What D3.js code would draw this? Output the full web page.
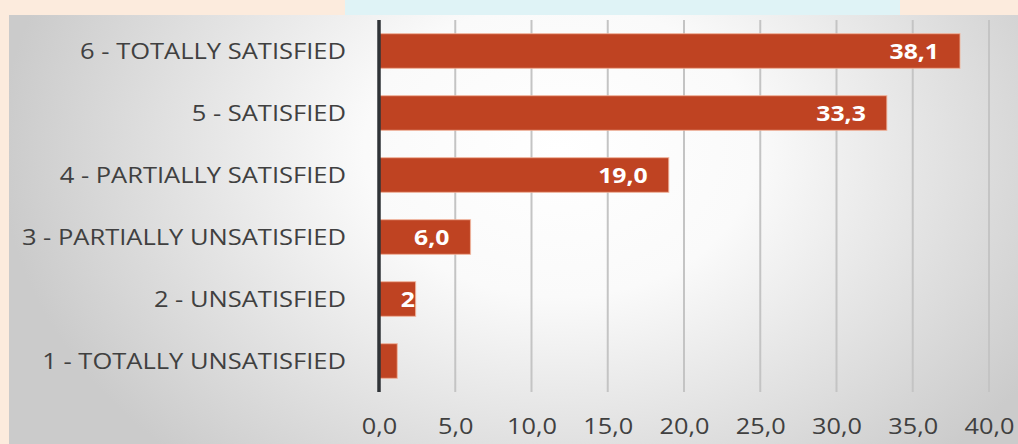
<!DOCTYPE html>
<html><head><meta charset="utf-8">
<script src="https://cdn.jsdelivr.net/npm/d3@7/dist/d3.min.js"></script>
<style>html,body{margin:0;padding:0;overflow:hidden;background:#fcebdd}</style>
</head><body>
<script>
const categories = ["6 - TOTALLY SATISFIED","5 - SATISFIED","4 - PARTIALLY SATISFIED","3 - PARTIALLY UNSATISFIED","2 - UNSATISFIED","1 - TOTALLY UNSATISFIED"];
const values = [38.1, 33.3, 19.0, 6.0, 2.4, 1.2];
const valueLabels = ["38,1","33,3","19,0","6,0","2",""];
const xTicks = [0,5,10,15,20,25,30,35,40];

const W = 1018, H = 444;
const svg = d3.select("body").append("svg").attr("width", W).attr("height", H);
const defs = svg.append("defs");

svg.append("rect").attr("x",0).attr("y",0).attr("width",W).attr("height",H).attr("fill","#fcebdd");
svg.append("rect").attr("x",345).attr("y",0).attr("width",555).attr("height",16).attr("fill","#dff3f6");

const pg = defs.append("radialGradient").attr("id","panel").attr("gradientUnits","userSpaceOnUse")
  .attr("cx",560).attr("cy",150).attr("r",560).attr("gradientTransform","translate(560,150) scale(1,0.75) translate(-560,-150)");
pg.append("stop").attr("offset","0").attr("stop-color","#ffffff");
pg.append("stop").attr("offset","0.35").attr("stop-color","#fafafa");
pg.append("stop").attr("offset","1").attr("stop-color","#cbcbcb");
svg.append("rect").attr("x",9).attr("y",15).attr("width",W-9).attr("height",H-15).attr("fill","url(#panel)");

const x0 = 379, pxPer5 = 76.25;
const x = d3.scaleLinear().domain([0,40]).range([x0, x0 + 8*pxPer5]);
const y = d3.scaleBand().domain(categories).range([20, 392]).paddingInner(0.44).paddingOuter(0.22);

// gridlines
svg.append("g").selectAll("line").data(xTicks.slice(1)).join("line")
  .attr("x1", d=>x(d)).attr("x2", d=>x(d)).attr("y1",20).attr("y2",392)
  .attr("stroke","#c4c4c4").attr("stroke-width",2);

// bars
svg.append("g").selectAll("rect").data(values).join("rect")
  .attr("x", x(0)).attr("y", (d,i)=>y(categories[i]))
  .attr("width", d=>x(d)-x(0)).attr("height", y.bandwidth())
  .attr("fill","#bf4322").attr("stroke","#f2b8a0").attr("stroke-width",1.2).attr("stroke-opacity",0.7);

// axis line
svg.append("line").attr("x1",x0).attr("x2",x0).attr("y1",20).attr("y2",392).attr("stroke","#2f3337").attr("stroke-width",3.5);

const font = "'Open Sans', sans-serif";

// category labels
const yAxis = d3.axisLeft(y).tickSize(0).tickPadding(0);
const gy = svg.append("g").attr("transform","translate(346,1)").call(yAxis);
gy.select(".domain").remove();
gy.selectAll("text").attr("font-family",font).attr("font-size",22).attr("fill","#404040")
  .attr("transform","scale(1.16,1)");

// x tick labels
const xAxis = d3.axisBottom(x).tickValues(xTicks).tickSize(0).tickPadding(0).tickFormat(d=>d3.format(".1f")(d).replace(".",","));
const gx = svg.append("g").attr("transform","translate(0,418)").call(xAxis);
gx.select(".domain").remove();
gx.selectAll("text").attr("font-family",font).attr("font-size",22).attr("fill","#404040")
  .attr("transform","scale(1.15,1)");

// value labels
svg.append("g").selectAll("text").data(values).join("text")
  .attr("transform", (d,i)=>`translate(${Math.max(x(d)-21, x(0)+36)},${y(categories[i]) + y.bandwidth()/2}) scale(1.18,1)`)
  .attr("dy","0.36em").attr("text-anchor","end")
  .attr("font-family",font).attr("font-weight","bold").attr("font-size",21).attr("fill","#ffffff")
  .text((d,i)=>valueLabels[i]);
</script>
</body></html>
